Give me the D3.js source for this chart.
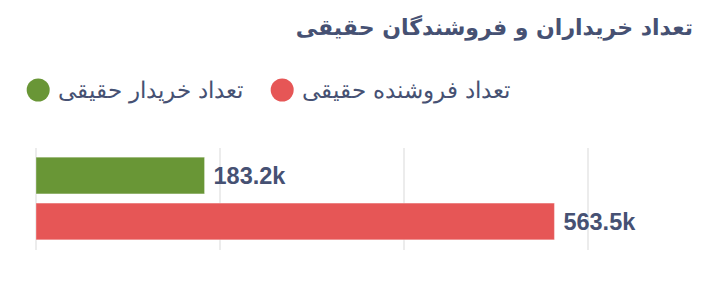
<!DOCTYPE html>
<html><head><meta charset="utf-8">
<script src="https://cdn.jsdelivr.net/npm/d3@7/dist/d3.min.js"></script>
<style>
body{margin:0;background:#fff;}
svg{display:block;}
</style></head>
<body>
<svg id="c" width="705" height="286"></svg>
<script>
const title = "تعداد خریداران و فروشندگان حقیقی";
const seriesNames = ["تعداد خریدار حقیقی", "تعداد فروشنده حقیقی"];
const seriesValues = [183200, 563500];
const seriesLabels = ["183.2k", "563.5k"];
const seriesColors = ["#699636", "#e65656"];
const tickValues = [0, 200000, 400000, 600000];

const svg = d3.select("#c");
const textColor = "#465173";
const arFont = "DejaVu Sans, sans-serif";

svg.append("text").attr("x", 693).attr("y", 35).attr("text-anchor", "end")
  .style("font-family", arFont).style("font-weight", "bold").style("font-size", "22px")
  .attr("fill", textColor).text(title);

// legend: RTL order (red first at right)
const legendOrder = [1, 0];
const legendRight = [510, 243];
legendOrder.forEach((i, k) => {
  const right = legendRight[k];
  const t = svg.append("text").attr("x", right).attr("y", 98).attr("text-anchor", "end")
    .style("font-family", arFont).style("font-size", "22.5px").style("font-weight", "300")
    .attr("fill", textColor).text(seriesNames[i]);
  const w = t.node().getComputedTextLength();
  const cx = right - w - 8 - 11.5;
  svg.append("circle").attr("cx", cx).attr("cy", 90).attr("r", 11.5).attr("fill", seriesColors[i]);
});

const x = d3.scaleLinear().domain([0, 600000]).range([36, 588]);
const y = d3.scaleBand().domain([0, 1]).range([148, 249]).paddingInner(0.2).paddingOuter(0.2);

svg.append("g").selectAll("line").data(tickValues).join("line")
  .attr("x1", d => x(d)).attr("x2", d => x(d)).attr("y1", 148).attr("y2", 250)
  .attr("stroke", "#e6e6e6").attr("stroke-width", 1.5);

const idx = [0, 1];
svg.append("g").selectAll("rect").data(idx).join("rect")
  .attr("x", x(0)).attr("y", i => y(i)).attr("width", i => x(seriesValues[i]) - x(0))
  .attr("height", y.bandwidth()).attr("fill", i => seriesColors[i])
  .attr("stroke", "#fff").attr("stroke-opacity", 0.35).attr("stroke-width", 1);

svg.append("g").selectAll("text").data(idx).join("text")
  .attr("x", i => x(seriesValues[i]) + 9).attr("y", i => y(i) + y.bandwidth() / 2 + 8.5)
  .style("font-family", "Liberation Sans, Arial, sans-serif").style("font-weight", "bold")
  .style("font-size", "23.5px").attr("fill", textColor)
  .text(i => seriesLabels[i]);
</script>
</body></html>
